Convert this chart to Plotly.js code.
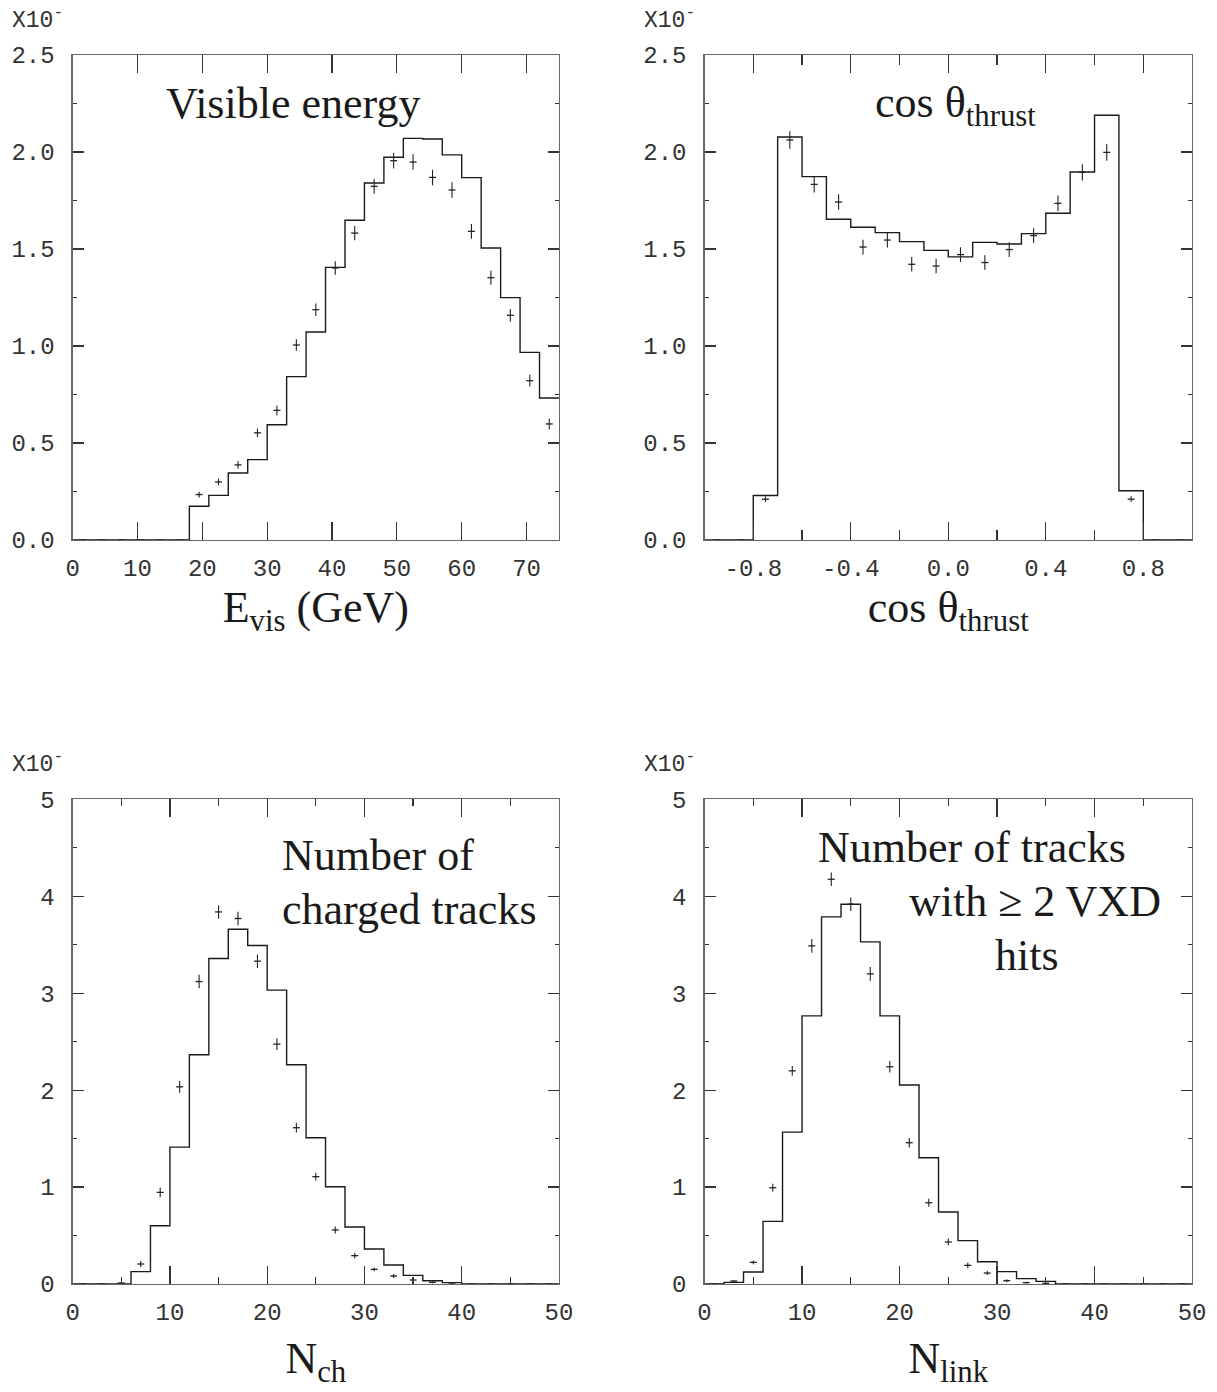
<!DOCTYPE html>
<html>
<head>
<meta charset="utf-8">
<script src="https://cdn.plot.ly/plotly-3.0.1.min.js"></script>
<style>html,body{margin:0;padding:0;background:#fff;}#chart{width:1217px;height:1392px;}</style>
</head>
<body>
<div id="chart"></div>
<script>
// ---------- Data (values in units of 10^-1, as on the plot) ----------
// Visible energy, 3 GeV bins
const evisCenters = [1.5,4.5,7.5,10.5,13.5,16.5,19.5,22.5,25.5,28.5,31.5,34.5,37.5,40.5,43.5,46.5,49.5,52.5,55.5,58.5,61.5,64.5,67.5,70.5,73.5];
const evisMC   = [0,0,0,0,0,0,0.174,0.230,0.345,0.414,0.594,0.842,1.072,1.405,1.648,1.840,1.973,2.070,2.067,1.985,1.868,1.505,1.249,0.967,0.732];
const evisData = [0,0,0,0,0,0,0.234,0.299,0.387,0.552,0.668,1.005,1.187,1.402,1.582,1.823,1.955,1.948,1.869,1.804,1.591,1.352,1.158,0.821,0.598];
const evisErr  = [0,0,0,0,0,0,0.015,0.017,0.020,0.022,0.025,0.030,0.032,0.035,0.037,0.038,0.040,0.040,0.040,0.040,0.038,0.036,0.033,0.030,0.027];

// cos theta thrust, 0.1 bins
const cosCenters = [-0.95,-0.85,-0.75,-0.65,-0.55,-0.45,-0.35,-0.25,-0.15,-0.05,0.05,0.15,0.25,0.35,0.45,0.55,0.65,0.75,0.85,0.95];
const cosMC   = [0,0,0.229,2.077,1.873,1.653,1.612,1.584,1.538,1.493,1.459,1.534,1.526,1.579,1.684,1.897,2.189,0.254,0,0];
const cosData = [0,0,0.210,2.062,1.833,1.742,1.510,1.546,1.421,1.412,1.471,1.430,1.497,1.569,1.735,1.895,1.998,0.210,0,0];
const cosErr  = [0,0,0.015,0.045,0.042,0.040,0.038,0.038,0.037,0.037,0.038,0.037,0.038,0.038,0.040,0.042,0.043,0.015,0,0];
const cosTickVals = [-0.8,-0.4,0.0,0.4,0.8];
const cosTickText = ['-0.8','-0.4','0.0','0.4','0.8'];

// Number of charged tracks, bins of 2
const nchCenters = [1,3,5,7,9,11,13,15,17,19,21,23,25,27,29,31,33,35,37,39,41,43,45,47,49];
const nchMC   = [0,0,0,0.127,0.601,1.412,2.364,3.357,3.660,3.491,3.031,2.261,1.509,1.003,0.588,0.361,0.196,0.089,0.034,0.014,0,0,0,0,0];
const nchData = [0,0,0.010,0.206,0.945,2.034,3.120,3.838,3.770,3.330,2.474,1.612,1.107,0.557,0.292,0.151,0.082,0.041,0.017,0.010,0,0,0,0,0];
const nchErr  = [0,0,0.010,0.030,0.050,0.060,0.070,0.070,0.070,0.070,0.060,0.050,0.040,0.035,0.030,0.020,0.020,0.015,0.010,0.010,0,0,0,0,0];

// Number of tracks with >= 2 VXD hits, bins of 2
const nlinkCenters = [1,3,5,7,9,11,13,15,17,19,21,23,25,27,29,31,33,35,37,39,41,43,45,47,49];
const nlinkMC   = [0,0.017,0.124,0.646,1.567,2.766,3.787,3.918,3.529,2.766,2.052,1.302,0.742,0.447,0.230,0.127,0.055,0.027,0,0,0,0,0,0,0];
const nlinkData = [0,0.030,0.223,0.993,2.199,3.488,4.175,3.918,3.199,2.241,1.457,0.838,0.433,0.192,0.113,0.034,0.014,0.007,0,0,0,0,0,0,0];
const nlinkErr  = [0,0.010,0.020,0.040,0.050,0.070,0.070,0.070,0.070,0.060,0.050,0.040,0.035,0.030,0.020,0.015,0.010,0.010,0,0,0,0,0,0,0];

// ---------- Helpers ----------
function stepTrace(centers, vals, width, xa, ya){
  const x = centers.map(c => c - width/2);
  x.push(centers[centers.length-1] + width/2);
  const y = vals.slice(); y.push(vals[vals.length-1]);
  return {type:'scatter', mode:'lines', x:x, y:y, xaxis:xa, yaxis:ya,
          line:{shape:'hv', color:'#1a1a1a', width:1.4}, hoverinfo:'skip', cliponaxis:false};
}
function pointTrace(centers, vals, errs, xa, ya){
  return {type:'scatter', mode:'markers', x:centers, y:vals, xaxis:xa, yaxis:ya,
          marker:{symbol:'line-ew', size:5, color:'#222', line:{color:'#222', width:1.3}},
          error_y:{type:'data', array:errs, visible:true, color:'#222', thickness:1.1, width:0},
          cliponaxis:false};
}

const data = [
  stepTrace(evisCenters, evisMC, 3, 'x', 'y'),
  pointTrace(evisCenters, evisData, evisErr, 'x', 'y'),
  stepTrace(cosCenters, cosMC, 0.1, 'x2', 'y2'),
  pointTrace(cosCenters, cosData, cosErr, 'x2', 'y2'),
  stepTrace(nchCenters, nchMC, 2, 'x3', 'y3'),
  pointTrace(nchCenters, nchData, nchErr, 'x3', 'y3'),
  stepTrace(nlinkCenters, nlinkMC, 2, 'x4', 'y4'),
  pointTrace(nlinkCenters, nlinkData, nlinkErr, 'x4', 'y4')
];

// ---------- Layout ----------
const tickFont = {family:'Liberation Mono, Courier New, monospace', size:24, color:'#333'};
const serif = 'Liberation Serif, Times New Roman, serif';
const titleFont = {family:serif, size:44, color:'#1a1a1a'};

function xAxis(domain, anchor, extra){
  return Object.assign({
    domain:domain, anchor:anchor, showline:true, linecolor:'#666', linewidth:1.2,
    mirror:'ticks', ticks:'inside', ticklen:18, tickwidth:1.2, tickcolor:'#333',
    showgrid:false, zeroline:false, tickfont:tickFont, ticklabelstandoff:6
  }, extra);
}
function yAxis(domain, anchor, extra){
  return Object.assign({
    domain:domain, anchor:anchor, showline:true, linecolor:'#666', linewidth:1.2,
    mirror:'ticks', ticks:'inside', ticklen:11, tickwidth:1.2, tickcolor:'#333',
    showgrid:false, zeroline:false, tickfont:tickFont, ticklabelstandoff:12
  }, extra);
}

const xL = [0.0597, 0.4593], xR = [0.5789, 0.9795];
const yT = [0.6121, 0.9605], yB = [0.0776, 0.4258];

const layout = {
  width:1217, height:1392, margin:{l:0, r:0, t:0, b:0},
  paper_bgcolor:'#fff', plot_bgcolor:'#fff', showlegend:false,
  xaxis: xAxis(xL, 'y', {range:[0,75], tick0:0, dtick:10,
    title:{text:'E<sub>vis</sub> (GeV)', font:titleFont, standoff:8}}),
  yaxis: yAxis(yT, 'x', {range:[0,2.5], tick0:0, dtick:0.5, tickformat:'.1f',
    minor:{dtick:0.25, tick0:0, ticks:'inside', ticklen:4, tickcolor:'#333'}}),
  xaxis2: xAxis(xR, 'y2', {range:[-1,1], tickmode:'array', tickvals:cosTickVals, ticktext:cosTickText,
    minor:{tickmode:'linear', tick0:-1, dtick:0.2, ticks:'inside', ticklen:10, tickcolor:'#333'},
    title:{text:'cos θ<sub>thrust</sub>', font:titleFont, standoff:8}}),
  yaxis2: yAxis(yT, 'x2', {range:[0,2.5], tick0:0, dtick:0.5, tickformat:'.1f',
    minor:{dtick:0.25, tick0:0, ticks:'inside', ticklen:4, tickcolor:'#333'}}),
  xaxis3: xAxis(xL, 'y3', {range:[0,50], tick0:0, dtick:10,
    minor:{dtick:5, tick0:0, ticks:'inside', ticklen:7, tickcolor:'#333'},
    title:{text:'N<sub>ch</sub>', font:titleFont, standoff:16}}),
  yaxis3: yAxis(yB, 'x3', {range:[0,5], tick0:0, dtick:1,
    minor:{dtick:0.5, tick0:0, ticks:'inside', ticklen:4, tickcolor:'#333'}}),
  xaxis4: xAxis(xR, 'y4', {range:[0,50], tick0:0, dtick:10,
    minor:{dtick:5, tick0:0, ticks:'inside', ticklen:7, tickcolor:'#333'},
    title:{text:'N<sub>link</sub>', font:titleFont, standoff:16}}),
  yaxis4: yAxis(yB, 'x4', {range:[0,5], tick0:0, dtick:1,
    minor:{dtick:0.5, tick0:0, ticks:'inside', ticklen:4, tickcolor:'#333'}}),
  annotations: [
    // exponent labels
    {xref:'paper', yref:'paper', x:10/1217, y:1-19/1392, xanchor:'left', yanchor:'middle', showarrow:false,
     text:'X10<sup>-</sup>', font:{family:tickFont.family, size:23, color:'#333'}},
    {xref:'paper', yref:'paper', x:642/1217, y:1-19/1392, xanchor:'left', yanchor:'middle', showarrow:false,
     text:'X10<sup>-</sup>', font:{family:tickFont.family, size:23, color:'#333'}},
    {xref:'paper', yref:'paper', x:10/1217, y:1-763/1392, xanchor:'left', yanchor:'middle', showarrow:false,
     text:'X10<sup>-</sup>', font:{family:tickFont.family, size:23, color:'#333'}},
    {xref:'paper', yref:'paper', x:642/1217, y:1-763/1392, xanchor:'left', yanchor:'middle', showarrow:false,
     text:'X10<sup>-</sup>', font:{family:tickFont.family, size:23, color:'#333'}},
    // in-plot labels
    {xref:'x', yref:'y', x:34, y:2.25, xanchor:'center', yanchor:'middle', showarrow:false,
     text:'Visible energy', font:titleFont},
    {xref:'x2', yref:'y2', x:0.03, y:2.24, xanchor:'center', yanchor:'middle', showarrow:false,
     text:'cos θ<sub>thrust</sub>', font:titleFont},
    {xref:'x3', yref:'y3', x:21.3, y:4.42, xanchor:'left', yanchor:'middle', showarrow:false,
     text:'Number of', font:titleFont},
    {xref:'x3', yref:'y3', x:21.3, y:3.86, xanchor:'left', yanchor:'middle', showarrow:false,
     text:'charged tracks', font:titleFont},
    {xref:'x4', yref:'y4', x:27.45, y:4.5, xanchor:'center', yanchor:'middle', showarrow:false,
     text:'Number of tracks', font:titleFont},
    {xref:'x4', yref:'y4', x:33.9, y:3.95, xanchor:'center', yanchor:'middle', showarrow:false,
     text:'with ≥ 2 VXD', font:titleFont},
    {xref:'x4', yref:'y4', x:33.1, y:3.39, xanchor:'center', yanchor:'middle', showarrow:false,
     text:'hits', font:titleFont}
  ]
};

Plotly.newPlot('chart', data, layout, {staticPlot:true, displayModeBar:false});
</script>
</body>
</html>
